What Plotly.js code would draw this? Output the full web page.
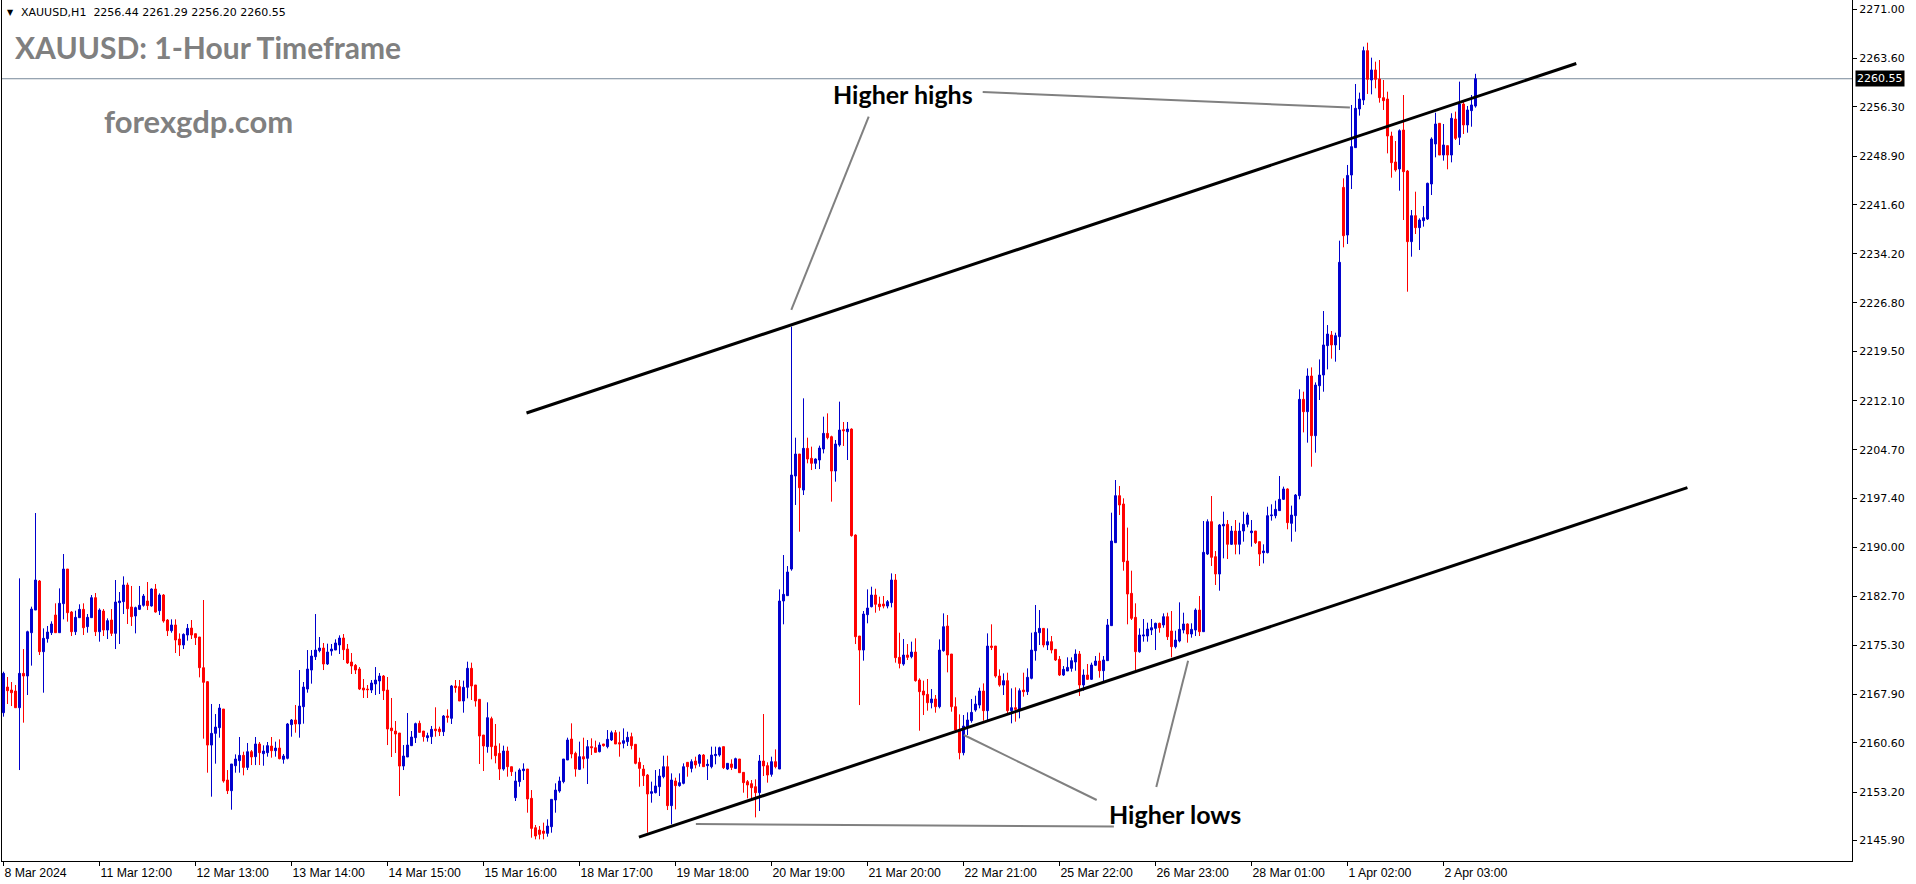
<!DOCTYPE html>
<html><head><meta charset="utf-8">
<script src="https://cdn.plot.ly/plotly-3.0.1.min.js"></script>
<style>html,body{margin:0;padding:0;background:#fff;overflow:hidden}#chart{width:1916px;height:884px}</style>
</head><body><div id="chart"></div>
<script>
const symbol = "XAUUSD,H1";
const opens = [
2165.14,2169.00,2168.55,2168.40,2165.89,2171.06,2170.66,2177.18,2180.59,2184.96,
2174.32,2176.28,2177.18,2179.84,2177.18,2181.55,2186.76,2180.29,2177.33,2179.44,
2180.69,2178.09,2179.44,2182.45,2177.33,2180.44,2177.58,2179.09,2177.08,2181.70,
2181.85,2184.36,2181.05,2179.69,2180.69,2181.30,2181.95,2181.20,2183.75,2180.49,
2182.85,2179.09,2177.48,2178.34,2176.23,2175.33,2176.83,2177.88,2177.03,2176.53,
2171.91,2169.81,2160.27,2162.03,2162.88,2165.69,2155.01,2153.40,2157.16,2157.92,
2158.72,2156.91,2159.27,2158.52,2160.43,2158.97,2159.12,2160.12,2159.42,2159.82,
2158.12,2158.27,2163.34,2164.04,2163.44,2166.04,2168.70,2171.56,2173.57,2174.47,
2174.87,2172.47,2174.42,2174.57,2175.33,2176.38,2174.72,2172.77,2172.27,2171.71,
2168.85,2168.70,2168.55,2169.46,2169.91,2170.66,2168.55,2162.83,2162.38,2162.08,
2157.11,2158.47,2160.18,2161.38,2163.54,2162.38,2161.38,2161.53,2162.68,2162.68,
2162.28,2164.64,2164.29,2169.16,2169.06,2166.90,2168.96,2171.82,2169.31,2167.15,
2161.78,2160.03,2164.24,2160.13,2159.02,2156.66,2159.37,2157.01,2152.35,2154.76,
2156.41,2156.66,2152.25,2147.83,2147.48,2147.33,2146.98,2147.98,2152.00,2153.35,
2154.76,2158.02,2161.18,2159.02,2156.61,2158.52,2158.27,2160.03,2159.87,2159.27,
2160.43,2160.03,2161.03,2162.13,2160.63,2160.53,2160.78,2161.53,2160.38,2157.67,
2156.66,2155.76,2153.00,2153.10,2154.00,2155.51,2157.01,2151.15,2154.86,2154.16,
2154.51,2157.67,2156.76,2157.87,2157.52,2158.77,2157.17,2157.01,2158.67,2158.77,
2160.03,2156.66,2157.42,2156.76,2158.17,2156.16,2154.76,2154.46,2154.00,2153.10,
2157.87,2157.17,2155.86,2157.77,2156.66,2181.95,2182.75,2186.76,2200.76,2204.07,
2198.65,2204.92,2203.42,2202.67,2203.17,2204.82,2207.18,2206.68,2201.51,2205.43,
2207.73,2207.43,2207.83,2191.88,2176.68,2174.57,2179.89,2181.09,2182.85,2181.49,
2181.49,2181.19,2181.70,2185.11,2173.47,2172.46,2173.82,2173.57,2174.27,2170.06,
2168.40,2167.90,2166.64,2167.20,2166.04,2174.47,2178.18,2173.97,2166.04,2162.63,
2159.12,2162.93,2163.94,2165.54,2166.29,2168.40,2165.44,2175.17,2175.17,2170.66,
2169.30,2169.96,2165.44,2165.89,2165.64,2168.55,2168.30,2170.31,2174.47,2177.18,
2177.83,2175.33,2175.83,2174.67,2173.17,2170.81,2171.41,2171.81,2172.77,2173.97,
2169.31,2170.81,2170.16,2172.27,2172.92,2171.46,2172.97,2178.24,2190.73,2197.80,
2196.55,2187.97,2183.10,2179.49,2174.32,2176.68,2176.68,2177.58,2177.83,2178.59,
2178.34,2179.59,2177.43,2175.07,2175.93,2177.58,2178.49,2176.98,2177.58,2180.59,
2177.33,2189.02,2193.89,2188.62,2186.01,2193.24,2193.49,2190.48,2192.48,2190.48,
2192.48,2193.49,2192.23,2192.48,2190.88,2189.22,2189.22,2194.79,2194.79,2195.55,
2197.25,2198.81,2193.64,2194.79,2197.80,2212.30,2210.44,2215.81,2206.83,2214.35,
2215.96,2220.38,2221.98,2220.48,2221.73,2244.20,2237.03,2246.06,2250.18,2256.00,
2257.35,2264.78,2260.36,2261.87,2260.51,2257.70,2257.50,2251.93,2248.02,2246.97,
2252.83,2246.66,2236.03,2239.94,2238.14,2239.19,2239.44,2244.71,2250.73,2253.84,
2249.07,2250.48,2249.07,2254.49,2251.73,2256.75,2253.59,2255.75,2256.44];
const highs = [
2171.31,2170.51,2169.76,2169.31,2185.36,2174.72,2177.48,2181.10,2195.19,2185.11,
2177.83,2178.19,2178.89,2181.60,2183.85,2189.02,2186.76,2180.44,2180.49,2181.45,
2181.60,2179.99,2182.85,2183.15,2180.84,2180.74,2179.34,2180.74,2185.11,2183.30,
2185.66,2184.71,2184.21,2181.10,2184.21,2183.00,2184.81,2183.85,2184.51,2183.10,
2183.00,2179.24,2179.19,2179.19,2177.08,2177.08,2178.49,2179.09,2177.03,2176.53,
2182.10,2169.91,2166.45,2164.94,2166.45,2165.69,2156.51,2157.42,2158.87,2161.48,
2159.27,2160.58,2159.52,2161.48,2160.73,2160.23,2160.73,2161.48,2160.78,2161.13,
2158.92,2163.59,2164.19,2166.30,2171.56,2169.76,2174.57,2174.57,2179.99,2176.53,
2175.63,2175.53,2175.48,2176.18,2176.78,2176.98,2175.48,2174.12,2172.47,2172.01,
2170.21,2169.31,2170.06,2172.01,2171.11,2170.81,2170.51,2167.35,2163.89,2162.08,
2160.27,2165.09,2162.38,2163.64,2163.94,2162.38,2162.13,2163.14,2165.95,2163.04,
2164.79,2165.64,2169.31,2170.06,2170.06,2169.96,2172.82,2172.67,2169.31,2167.15,
2161.78,2166.70,2164.54,2163.44,2160.53,2160.18,2160.03,2157.01,2156.26,2156.76,
2157.52,2156.66,2153.50,2148.24,2148.08,2148.59,2149.09,2152.10,2154.51,2155.51,
2158.17,2161.38,2163.54,2159.27,2160.78,2161.38,2161.03,2161.28,2160.93,2160.68,
2160.43,2162.53,2162.43,2162.53,2162.28,2162.78,2162.28,2162.13,2160.38,2158.37,
2157.27,2155.91,2154.76,2156.51,2156.66,2158.67,2158.67,2156.01,2155.36,2156.01,
2157.52,2157.67,2158.12,2158.52,2158.92,2158.92,2158.12,2160.03,2160.03,2160.03,
2160.03,2157.52,2158.12,2158.37,2158.17,2156.16,2155.01,2155.01,2155.11,2158.77,
2164.94,2157.67,2158.52,2159.62,2183.70,2188.87,2187.21,2223.24,2206.53,2204.07,
2212.45,2206.53,2205.18,2203.42,2205.33,2209.69,2210.19,2206.83,2206.18,2211.95,
2208.89,2208.89,2207.93,2191.98,2176.68,2180.44,2183.70,2184.10,2183.80,2182.60,
2182.70,2182.10,2186.11,2186.01,2177.18,2176.23,2175.47,2175.83,2176.33,2170.31,
2169.96,2170.21,2168.70,2167.80,2176.18,2180.09,2179.84,2173.97,2167.45,2164.89,
2164.79,2165.19,2167.20,2167.70,2168.90,2169.55,2177.08,2178.44,2175.17,2171.66,
2171.06,2171.16,2168.80,2168.95,2168.80,2171.16,2171.81,2177.18,2181.35,2180.59,
2177.83,2177.83,2176.68,2174.67,2173.67,2172.16,2173.47,2173.47,2174.67,2174.42,
2171.66,2172.47,2172.67,2173.67,2174.17,2173.67,2179.24,2195.24,2200.16,2199.26,
2197.40,2192.99,2186.51,2181.60,2177.83,2179.24,2178.69,2179.24,2178.69,2178.69,
2180.09,2180.19,2180.44,2177.48,2181.75,2180.19,2178.59,2178.59,2180.84,2182.70,
2193.99,2194.24,2197.75,2189.47,2193.54,2195.39,2194.14,2193.24,2194.14,2193.74,
2195.39,2195.24,2194.14,2192.48,2190.88,2190.48,2196.14,2196.50,2197.05,2200.76,
2199.16,2198.91,2196.30,2198.05,2213.81,2213.45,2216.96,2217.11,2214.85,2218.31,
2225.59,2223.48,2222.58,2222.33,2236.18,2245.56,2247.57,2256.60,2259.76,2258.46,
2265.38,2265.98,2263.72,2263.12,2263.37,2260.36,2258.60,2252.58,2251.18,2252.93,
2258.10,2246.82,2240.79,2243.55,2239.54,2241.40,2244.91,2251.73,2255.44,2253.84,
2253.74,2250.48,2255.35,2255.60,2260.11,2257.35,2256.45,2258.10,2261.29];
const lows = [
2164.54,2166.45,2166.14,2165.89,2156.51,2163.64,2167.80,2172.22,2180.59,2173.82,
2168.15,2175.68,2176.83,2177.18,2177.18,2179.19,2178.84,2176.68,2176.83,2179.44,
2176.83,2177.18,2179.44,2176.68,2175.83,2176.68,2176.23,2176.68,2174.72,2175.48,
2179.99,2178.49,2178.19,2177.08,2180.59,2181.10,2180.59,2181.10,2180.19,2179.84,
2178.69,2176.68,2177.18,2174.12,2173.67,2174.72,2175.98,2176.23,2175.33,2170.46,
2161.23,2156.11,2152.50,2157.47,2161.38,2154.61,2152.90,2150.54,2156.11,2156.11,
2155.71,2156.51,2157.26,2157.26,2157.26,2157.16,2158.52,2158.37,2158.52,2158.12,
2157.47,2158.12,2161.53,2162.13,2161.38,2163.49,2168.15,2169.51,2173.07,2174.22,
2171.56,2172.32,2173.72,2174.57,2173.97,2173.07,2172.47,2170.96,2170.96,2168.55,
2167.35,2167.35,2168.10,2167.80,2167.95,2167.05,2160.27,2158.47,2159.07,2152.60,
2156.51,2158.47,2160.12,2160.58,2162.13,2160.78,2160.78,2160.43,2161.53,2161.63,
2161.63,2163.64,2163.44,2168.15,2166.90,2165.14,2167.30,2167.05,2166.05,2157.42,
2156.36,2159.12,2158.12,2157.52,2155.01,2156.41,2155.51,2155.61,2151.85,2154.00,
2155.01,2150.09,2146.33,2146.08,2146.08,2146.08,2146.48,2147.08,2150.09,2153.10,
2154.51,2158.02,2158.27,2155.51,2156.51,2156.76,2154.41,2158.77,2159.17,2159.17,
2160.03,2159.77,2160.88,2160.43,2158.52,2159.77,2160.13,2159.62,2157.37,2154.00,
2154.11,2147.08,2151.60,2153.00,2152.60,2155.26,2150.49,2148.34,2150.59,2154.00,
2154.36,2155.51,2156.16,2156.76,2157.01,2157.01,2155.01,2156.76,2157.37,2158.52,
2156.66,2156.51,2156.51,2156.66,2156.11,2153.10,2152.25,2152.25,2149.39,2150.34,
2155.61,2154.61,2155.51,2156.76,2156.66,2178.44,2182.75,2186.51,2196.40,2192.38,
2197.90,2202.67,2201.66,2201.81,2201.81,2204.17,2206.28,2196.90,2199.91,2205.18,
2205.28,2203.17,2191.63,2175.47,2166.29,2172.97,2178.59,2180.99,2180.19,2180.49,
2180.84,2180.84,2180.99,2172.67,2171.81,2172.21,2173.07,2173.32,2169.81,2162.43,
2164.79,2165.44,2165.79,2165.14,2165.79,2174.32,2171.21,2165.29,2162.28,2158.12,
2158.72,2161.78,2163.63,2165.29,2165.79,2163.94,2163.94,2174.57,2170.41,2169.05,
2167.80,2165.04,2163.54,2163.79,2164.29,2167.55,2167.80,2170.16,2172.97,2175.33,
2174.97,2174.57,2174.07,2172.92,2170.66,2170.66,2171.41,2171.31,2171.46,2167.65,
2168.45,2170.06,2170.06,2172.16,2170.41,2169.66,2172.97,2178.24,2190.73,2194.89,
2186.51,2178.44,2179.09,2171.56,2174.17,2175.83,2175.83,2176.83,2174.57,2177.18,
2177.93,2176.08,2173.47,2174.82,2175.73,2177.08,2175.68,2176.43,2176.68,2176.68,
2177.33,2188.87,2187.22,2184.36,2183.50,2188.37,2188.27,2190.38,2188.97,2188.97,
2190.88,2193.04,2190.13,2190.53,2187.22,2187.61,2189.12,2194.04,2194.39,2195.55,
2197.15,2192.74,2190.88,2192.38,2197.25,2207.33,2205.78,2202.16,2204.27,2212.20,
2213.45,2216.81,2218.42,2217.97,2219.72,2235.18,2235.68,2243.95,2250.18,2255.00,
2256.60,2258.26,2258.20,2259.11,2256.95,2255.85,2249.32,2245.66,2246.56,2243.70,
2239.29,2228.50,2233.77,2237.18,2234.77,2238.29,2239.29,2243.05,2248.72,2249.07,
2248.22,2246.92,2247.97,2251.33,2250.58,2252.23,2252.43,2253.33,2256.20];
const closes = [
2171.06,2168.45,2168.15,2165.89,2171.06,2170.66,2177.33,2180.74,2185.11,2174.32,
2176.33,2177.28,2178.49,2177.18,2181.60,2186.76,2180.19,2177.33,2179.49,2180.69,
2177.93,2179.49,2182.45,2177.33,2180.59,2177.58,2178.99,2177.08,2181.80,2181.95,
2184.36,2180.79,2179.59,2180.95,2181.30,2182.70,2181.25,2183.75,2180.29,2182.85,
2178.94,2177.48,2178.34,2176.08,2175.33,2176.93,2177.83,2176.83,2176.43,2171.91,
2169.71,2160.27,2162.03,2162.98,2165.84,2154.86,2153.40,2157.42,2158.17,2158.72,
2156.91,2159.27,2158.47,2160.43,2159.12,2159.37,2160.18,2159.42,2159.82,2158.22,
2158.62,2163.44,2164.04,2163.44,2166.14,2169.00,2171.71,2173.67,2174.57,2174.87,
2172.47,2174.27,2174.72,2175.63,2176.38,2174.62,2172.62,2172.17,2171.56,2168.70,
2168.55,2168.60,2169.61,2170.06,2170.66,2168.45,2162.68,2162.43,2161.93,2157.11,
2158.62,2160.27,2161.48,2163.49,2162.18,2161.53,2161.68,2162.63,2162.43,2162.28,
2164.64,2164.44,2169.16,2168.91,2166.90,2168.96,2171.82,2169.16,2166.90,2161.63,
2160.13,2164.39,2160.03,2158.67,2156.66,2159.37,2157.01,2156.26,2154.86,2156.51,
2156.66,2152.15,2147.73,2146.58,2146.83,2146.98,2148.08,2152.10,2153.50,2154.86,
2158.17,2161.03,2158.92,2156.66,2158.52,2158.17,2160.03,2159.87,2159.17,2160.28,
2160.18,2161.13,2162.13,2160.43,2160.43,2160.93,2161.43,2160.18,2157.52,2156.76,
2155.66,2152.90,2153.25,2154.11,2155.61,2157.01,2151.15,2155.01,2154.16,2154.61,
2157.01,2157.01,2157.77,2157.27,2158.77,2157.01,2157.37,2158.77,2158.87,2159.87,
2156.86,2157.52,2156.91,2158.22,2156.11,2154.61,2154.26,2153.85,2153.10,2157.87,
2157.12,2155.76,2157.77,2157.01,2181.95,2182.95,2186.31,2200.91,2204.07,2199.00,
2204.92,2203.32,2202.67,2203.32,2204.97,2207.18,2206.53,2201.51,2205.58,2207.68,
2207.58,2207.83,2191.78,2176.58,2174.57,2179.99,2180.89,2182.85,2181.45,2181.09,
2181.19,2181.85,2185.11,2173.42,2172.56,2173.82,2173.47,2174.27,2169.96,2168.30,
2167.80,2166.64,2167.20,2166.04,2174.57,2178.08,2173.82,2166.04,2162.53,2159.12,
2163.13,2164.04,2165.19,2166.44,2168.40,2165.44,2175.17,2174.97,2170.66,2169.30,
2169.96,2165.44,2165.89,2165.64,2168.45,2168.30,2170.46,2174.57,2177.23,2177.83,
2175.33,2175.83,2174.57,2173.07,2170.81,2171.66,2171.96,2172.97,2173.97,2169.31,
2170.81,2170.16,2172.32,2172.92,2171.46,2173.07,2178.34,2190.98,2197.80,2196.40,
2187.87,2183.00,2179.34,2174.32,2176.83,2176.83,2177.73,2177.93,2178.59,2177.93,
2179.59,2176.58,2175.07,2176.08,2177.68,2178.49,2176.98,2177.68,2180.59,2177.33,
2189.27,2193.89,2188.52,2186.01,2193.39,2193.49,2190.48,2192.48,2190.48,2192.48,
2193.49,2194.89,2192.48,2190.73,2189.02,2189.47,2194.79,2194.89,2195.74,2197.25,
2198.81,2193.74,2194.89,2197.90,2212.30,2210.44,2215.81,2206.83,2214.45,2215.96,
2220.48,2222.13,2220.48,2221.88,2232.92,2236.93,2246.00,2250.33,2256.10,2257.50,
2264.78,2260.46,2261.87,2260.46,2257.70,2257.25,2251.93,2247.92,2246.82,2252.73,
2246.56,2236.03,2239.94,2238.14,2239.29,2239.64,2244.81,2251.48,2253.74,2249.07,
2250.58,2249.07,2254.59,2251.58,2256.75,2253.59,2255.85,2256.60,2260.55];

const tickBars = [0,24,48,72,96,120,144,168,192,216,240,264,288,312,336,360];
const tickLabels = ["8 Mar 2024","11 Mar 12:00","12 Mar 13:00","13 Mar 14:00","14 Mar 15:00","15 Mar 16:00",
  "18 Mar 17:00","19 Mar 18:00","20 Mar 19:00","21 Mar 20:00","22 Mar 21:00","25 Mar 22:00",
  "26 Mar 23:00","28 Mar 01:00","1 Apr 02:00","2 Apr 03:00"];
const priceTicks = [2271.00,2263.60,2256.30,2248.90,2241.60,2234.20,2226.80,2219.50,2212.10,
  2204.70,2197.40,2190.00,2182.70,2175.30,2167.90,2160.60,2153.20,2145.90];

// trend / annotation lines as [bar, price] pairs
const channelUpper = [[130.75,2210.24],[393.2,2262.84]];
const channelLower = [[158.85,2146.42],[420.98,2199.02]];
const pointerHighSpike = [[216.3,2254.84],[196.95,2225.75]];
const pointerHighApr = [[244.8,2258.55],[336.6,2256.22]];
const pointerLow22 = [[240.1,2161.78],[273.3,2152.0]];
const pointerLow26 = [[296.15,2172.97],[288.2,2153.96]];
const pointerLow19 = [[173.1,2148.39],[277.6,2148.01]];

const W = 1916, H = 884, ML = 2, MR = 64, MT = 0, MB = 23;
const PW = W - ML - MR, PH = H - MT - MB;
const px = x => (x - ML) / PW;
const py = y => 1 - (y - MT) / PH;

const n = closes.length;
const xs = closes.map((_, i) => i);
const last = n - 1;

function seg(p, color, width) {
  return {type:'line', xref:'x', yref:'y', x0:p[0][0], y0:p[0][1], x1:p[1][0], y1:p[1][1],
          line:{color:color, width:width}, layer:'above'};
}

const trace = {
  type:'candlestick', x:xs, open:opens, high:highs, low:lows, close:closes,
  increasing:{line:{color:'#0000CD', width:1}, fillcolor:'#0000CD'},
  decreasing:{line:{color:'#FF0000', width:1}, fillcolor:'#FF0000'},
  whiskerwidth:0, hoverinfo:'skip', showlegend:false
};

const gray = '#808080';
const layout = {
  width:W, height:H,
  margin:{l:ML, r:MR, t:MT, b:MB, pad:0},
  paper_bgcolor:'#ffffff', plot_bgcolor:'#ffffff',
  showlegend:false,
  font:{family:'DejaVu Sans', size:11, color:'#000'},
  xaxis:{type:'linear', range:[-0.375, 462.125], rangeslider:{visible:false},
    showgrid:false, zeroline:false, showline:true, linecolor:'#000', linewidth:1,
    ticks:'outside', ticklen:4, tickcolor:'#000', tickwidth:1,
    tickmode:'array', tickvals:tickBars, ticktext:tickLabels,
    ticklabelposition:'outside right',
    tickfont:{family:'Liberation Sans', size:12.3, color:'#000'}, fixedrange:true},
  yaxis:{side:'right', range:[2142.82, 2272.4],
    showgrid:false, zeroline:false, showline:true, mirror:true, linecolor:'#000', linewidth:1,
    ticks:'outside', ticklen:4, tickcolor:'#000', tickwidth:1,
    tickmode:'array', tickvals:priceTicks, ticktext:priceTicks.map(v => v.toFixed(2)),
    tickfont:{family:'DejaVu Sans', size:11, color:'#000'}, fixedrange:true},
  shapes:[
    {type:'line', xref:'paper', yref:'y', x0:0, x1:1, y0:closes[last], y1:closes[last],
     line:{color:'#778899', width:1}, layer:'below'},
    seg(channelUpper, '#000', 3),
    seg(channelLower, '#000', 3),
    seg(pointerHighSpike, gray, 2),
    seg(pointerHighApr, gray, 2),
    seg(pointerLow22, gray, 2),
    seg(pointerLow26, gray, 2),
    seg(pointerLow19, gray, 2)
  ],
  annotations:[
    {xref:'paper', yref:'paper', x:px(10), y:py(12.5), xanchor:'center', yanchor:'middle',
     text:'\u25BC', showarrow:false, font:{family:'DejaVu Sans', size:8, color:'#000'}},
    {xref:'paper', yref:'paper', x:px(19), y:py(12.7), xanchor:'left', yanchor:'middle', showarrow:false,
     text: symbol + '\u00a0\u00a0' + [opens[last], highs[last], lows[last], closes[last]].map(v => v.toFixed(2)).join(' '),
     font:{family:'DejaVu Sans', size:11, color:'#000'}},
    {xref:'paper', yref:'paper', x:px(13), y:py(47), xanchor:'left', yanchor:'middle', showarrow:false,
     text:'XAUUSD: 1-Hour Timeframe', font:{family:'Lato', size:30, color:gray, weight:'bold'}},
    {xref:'paper', yref:'paper', x:px(102), y:py(121), xanchor:'left', yanchor:'middle', showarrow:false,
     text:'forexgdp.com', font:{family:'Lato', size:31, color:gray, weight:'bold'}},
    {xref:'paper', yref:'paper', x:px(831), y:py(94), xanchor:'left', yanchor:'middle', showarrow:false,
     text:'Higher highs', font:{family:'Lato', size:25, color:'#000', weight:'bold'}},
    {xref:'paper', yref:'paper', x:px(1107), y:py(814), xanchor:'left', yanchor:'middle', showarrow:false,
     text:'Higher lows', font:{family:'Lato', size:25, color:'#000', weight:'bold'}},
    {xref:'paper', yref:'y', x:px(1855), y:closes[last], xanchor:'left', yanchor:'middle', showarrow:false,
     text:closes[last].toFixed(2), bgcolor:'#000', borderpad:1,
     font:{family:'DejaVu Sans', size:11, color:'#fff'}}
  ]
};

Plotly.newPlot('chart', [trace], layout, {displayModeBar:false, staticPlot:true});
</script>
</body></html>
